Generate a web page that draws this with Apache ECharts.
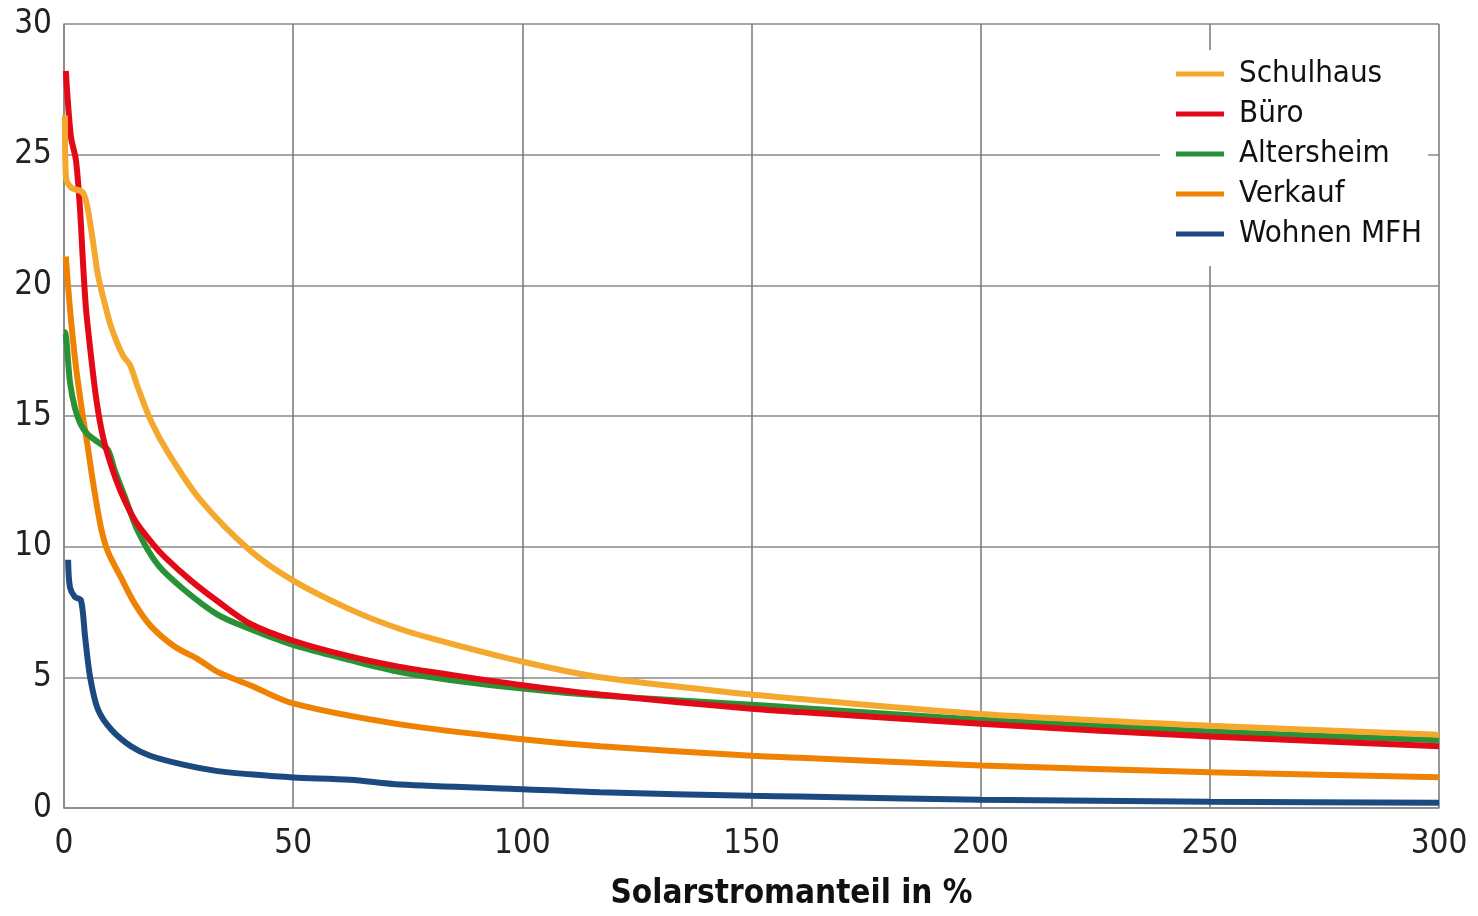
<!DOCTYPE html>
<html>
<head>
<meta charset="utf-8">
<script src="https://cdn.jsdelivr.net/npm/echarts@6/dist/echarts.min.js"></script>
<style>html,body{margin:0;padding:0;background:#fff}#c{width:1478px;height:916px}</style>
</head>
<body>
<div id="c"></div>
<script>
const seriesNames = ['Schulhaus', 'Büro', 'Altersheim', 'Verkauf', 'Wohnen MFH'];
const seriesColors = ['#F5A82E', '#E30A17', '#2A9236', '#F08203', '#1B4A80'];

const schulhausX = [0.2, 0.4, 1.5, 4.1, 5.2, 6.3, 7.4, 8.9, 10.3, 12.9, 14.4, 16.1, 19, 22.7, 29.7, 40.6, 50, 62.4, 73.3, 84.2, 100, 117, 150, 160.6, 200, 250, 300];
const schulhausY = [26.5, 24.2, 23.75, 23.55, 22.9, 21.7, 20.4, 19.3, 18.4, 17.3, 16.95, 16.1, 14.8, 13.6, 11.8, 9.85, 8.7, 7.6, 6.85, 6.3, 5.6, 5.0, 4.34, 4.17, 3.6, 3.15, 2.8];

const bueroX = [0.4, 1.5, 2.6, 3.5, 4.1, 4.8, 5.7, 7.0, 8.5, 10.3, 12.4, 15.5, 19.4, 22, 27.7, 33.6, 40.6, 50, 62.4, 73.3, 84.2, 100, 117, 150, 160.6, 200, 250, 300];
const bueroY = [28.2, 25.7, 24.8, 22.9, 21.0, 19.1, 17.6, 15.7, 14.2, 13.1, 12.1, 11.0, 10.1, 9.6, 8.7, 7.9, 7.05, 6.4, 5.8, 5.4, 5.1, 4.7, 4.34, 3.8, 3.67, 3.22, 2.74, 2.36];

const altersheimX = [0, 0.2, 1.3, 2.4, 3.7, 5.2, 7.4, 9.6, 11.1, 13.3, 16.1, 20.5, 26.2, 33.5, 40.6, 50, 62.4, 73.3, 84.2, 100, 117, 150, 160.6, 200, 250, 300];
const altersheimY = [18.2, 18.2, 16.3, 15.3, 14.66, 14.3, 14.0, 13.7, 12.9, 11.9, 10.6, 9.3, 8.35, 7.4, 6.85, 6.24, 5.66, 5.2, 4.9, 4.57, 4.3, 3.95, 3.83, 3.38, 2.93, 2.59];

const verkaufX = [0.4, 1.3, 2.6, 4.1, 5.2, 6.3, 8.1, 9.6, 12.4, 15.5, 19, 24.2, 29.2, 33.6, 40.6, 50, 73.3, 100, 117, 150, 160.6, 200, 250, 300];
const verkaufY = [21.1, 19.1, 16.9, 15.0, 13.8, 12.5, 10.7, 9.8, 8.83, 7.8, 6.95, 6.17, 5.7, 5.2, 4.7, 4.0, 3.2, 2.63, 2.36, 2.0, 1.92, 1.63, 1.37, 1.18];

const wohnenX = [0.9, 1.3, 2.4, 3.7, 4.6, 5.7, 7.4, 10.3, 14.6, 18.8, 26, 33.5, 40.6, 50, 62.4, 73.3, 100, 117, 150, 160.6, 200, 250, 300];
const wohnenY = [9.5, 8.45, 8.07, 7.95, 6.55, 5.0, 3.77, 3.0, 2.36, 2.0, 1.66, 1.41, 1.29, 1.17, 1.08, 0.9, 0.72, 0.6, 0.47, 0.44, 0.32, 0.24, 0.2];

const xTicks = [0, 50, 100, 150, 200, 250, 300];
const yTicks = [0, 5, 10, 15, 20, 25, 30];
const xAxisTitle = 'Solarstromanteil in %';

const xs = [schulhausX, bueroX, altersheimX, verkaufX, wohnenX];
const ys = [schulhausY, bueroY, altersheimY, verkaufY, wohnenY];

const FONT = "'Liberation Sans Narrow', 'DejaVu Sans Condensed', 'Roboto Condensed', sans-serif";

const chart = echarts.init(document.getElementById('c'));
chart.setOption({
  animation: false,
  backgroundColor: '#fff',
  grid: { left: 64, right: 39, top: 24, bottom: 104, containLabel: false },
  xAxis: {
    type: 'value', min: xTicks[0], max: xTicks[xTicks.length - 1], interval: 50,
    name: xAxisTitle, nameLocation: 'middle', nameGap: 70,
    nameTextStyle: { fontFamily: FONT, fontSize: 33, fontWeight: 'bold', color: '#111', padding: [0, 0, 0, 80] },
    axisLine: { show: true, lineStyle: { color: '#888', width: 1.5 } },
    axisTick: { show: false },
    axisLabel: { fontFamily: FONT, fontSize: 33, color: '#222', margin: 20 },
    splitLine: { show: true, lineStyle: { color: '#777', width: 1.5 } }
  },
  yAxis: {
    type: 'value', min: yTicks[0], max: yTicks[yTicks.length - 1], interval: 5,
    axisLine: { show: true, lineStyle: { color: '#888', width: 1.5 } },
    axisTick: { show: false },
    axisLabel: { fontFamily: FONT, fontSize: 33, color: '#222', margin: 12 },
    splitLine: { show: true, lineStyle: { color: '#888', width: 1.5 } }
  },
  legend: {
    orient: 'vertical', left: 1160, top: 50,
    backgroundColor: '#fff', padding: [6, 6, 14, 16],
    icon: 'rect', itemWidth: 48, itemHeight: 5, itemGap: 4,
    textStyle: { fontFamily: FONT, fontSize: 31, color: '#111', lineHeight: 36, padding: [0, 0, 0, 10] },
    data: seriesNames
  },
  series: seriesNames.map((n, i) => ({
    name: n, type: 'line', showSymbol: false, smooth: 0.3,
    color: seriesColors[i],
    lineStyle: { width: 6, color: seriesColors[i] },
    z: 10 - i,
    data: xs[i].map((x, k) => [x, ys[i][k]])
  }))
});
</script>
</body>
</html>
